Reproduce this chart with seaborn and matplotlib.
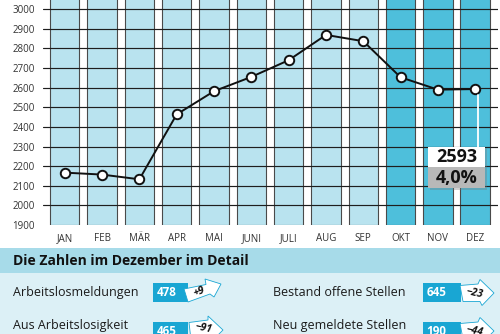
import numpy as np
import pandas as pd
import matplotlib
matplotlib.use("Agg")
import matplotlib.pyplot as plt
import seaborn as sns
from matplotlib.patches import Rectangle, Polygon

# ---------------- data ----------------
months = ["JAN", "FEB", "MÄR", "APR", "MAI", "JUNI", "JULI", "AUG", "SEP", "OKT", "NOV", "DEZ"]
values = [2167, 2157, 2133, 2464, 2582, 2655, 2740, 2869, 2837, 2653, 2590, 2593]
column_top = 3100
y_min = 1900
y_ticks = [1900, 2000, 2100, 2200, 2300, 2400, 2500, 2600, 2700, 2800, 2900, 3000]
highlight_value = "2593"
highlight_rate = "4,0%"
detail_title = "Die Zahlen im Dezember im Detail"
left_labels = ["Aus Arbeitslosigkeit", "abgemeldet"]
row1_left = "Arbeitslosmeldungen"
left_values = ["478", "465"]
left_changes = ["+9", "−91"]
right_labels = ["Bestand offene Stellen", "Neu gemeldete Stellen"]
right_values = ["645", "190"]
right_changes = ["−23", "−44"]

W, H = 500, 334
sns.set_theme(style="white")
plt.rcParams["font.family"] = ["Open Sans", "DejaVu Sans"]

fig = plt.figure(figsize=(W / 100, H / 100), dpi=100)
fig.patch.set_facecolor("white")

def fx(x):
    return x / W

def fy(y):
    return 1 - y / H

# bottom panel backgrounds
fig.patches.append(Rectangle((0, fy(334)), 1, (334 - 273) / H, transform=fig.transFigure,
                             facecolor="#dcf0f6", edgecolor="none", zorder=0))
fig.patches.append(Rectangle((0, fy(273)), 1, (273 - 247.5) / H, transform=fig.transFigure,
                             facecolor="#a7dbe9", edgecolor="none", zorder=0))

ax = fig.add_axes([fx(43), fy(225), (498 - 43) / W, 225 / H])
ax.set_facecolor("none")

df = pd.DataFrame({"month": months, "height": [column_top - y_min] * len(months)})
bar_colors = ["#b9e3ef"] * 9 + ["#4ebfdb"] * 3
sns.barplot(data=df, x="month", y="height", hue="month", palette=bar_colors, legend=False,
            order=months, bottom=y_min, width=0.79, edgecolor="#4a4a4a", linewidth=0.8,
            saturation=1, ax=ax, zorder=1)

for t in y_ticks[1:] + [3100]:
    ax.axhline(t, color="#1e1e1e", lw=0.85, zorder=2)

sns.lineplot(x=np.arange(len(months)), y=values, color="#111111", lw=1.4, marker="o",
             markersize=6.8, markerfacecolor="white", markeredgecolor="#111111",
             markeredgewidth=1.4, ax=ax, zorder=5)

ax.set_xlim(-0.583, 11.61)
ax.set_ylim(y_min, 3047)
ax.set_yticks(y_ticks)
ax.set_yticklabels([str(t) for t in y_ticks])
ax.tick_params(axis="y", length=0, pad=5.8, labelsize=7, labelcolor="#333333")
ax.tick_params(axis="x", length=0, pad=5.5, labelsize=7, labelcolor="#333333")
ax.set_xlabel("")
ax.set_ylabel("")
for s in ax.spines.values():
    s.set_visible(False)

# highlight annotation
ax.plot([11.07, 11.07], [2562, 2296], color="white", lw=1.3, zorder=6)
ax.add_patch(Rectangle((9.78, 2080), 1.527, 214, facecolor="#7a7a7a", alpha=0.35,
                       edgecolor="none", zorder=6))
ax.add_patch(Rectangle((9.733, 2194), 1.527, 102, facecolor="white", edgecolor="none", zorder=7))
ax.add_patch(Rectangle((9.733, 2087), 1.527, 107, facecolor="#b8b8b8", edgecolor="none", zorder=7))
ax.text(10.5, 2245, highlight_value, ha="center", va="center", fontsize=13,
        fontweight="bold", color="#111111", zorder=8)
ax.text(10.5, 2140, highlight_rate, ha="center", va="center", fontsize=13,
        fontweight="bold", color="#111111", zorder=8)

# detail section
fig.text(fx(13), fy(261), detail_title, fontsize=10, fontweight="bold", color="#111111",
         va="center", ha="left")

blue = "#19a6d3"

def arrow(points, label, rot, tx, ty):
    pts = [(fx(x), fy(y)) for x, y in points]
    fig.patches.append(Polygon(pts, closed=True, transform=fig.transFigure,
                               facecolor="white", edgecolor=blue, lw=0.6, zorder=3))
    fig.text(fx(tx), fy(ty), label, fontsize=7.5, fontweight="bold", style="italic",
             color="#111111", rotation=rot, ha="center", va="center", zorder=4)

rows_y = [292.5, 325.5]
box_top = [283, 321.7]
fig.text(fx(13), fy(rows_y[0]), row1_left, fontsize=9, color="#1a1a1a", va="center", ha="left")
fig.text(fx(13), fy(rows_y[1]), left_labels[0], fontsize=9, color="#1a1a1a", va="center", ha="left")
fig.text(fx(13), fy(rows_y[1] + 15), left_labels[1], fontsize=9, color="#1a1a1a", va="center", ha="left")
for i in range(2):
    fig.patches.append(Rectangle((fx(152.7), fy(box_top[i] + 19)), (188 - 152.7) / W, 19 / H,
                                 transform=fig.transFigure, facecolor=blue, edgecolor="none", zorder=2))
    fig.text(fx(156.5), fy(box_top[i] + 9.5), left_values[i], fontsize=8.4, fontweight="bold",
             color="white", va="center", ha="left", zorder=4)
    fig.text(fx(273), fy(rows_y[i]), right_labels[i], fontsize=9, color="#1a1a1a",
             va="center", ha="left")
    fig.patches.append(Rectangle((fx(422.7), fy(box_top[i] + 19)), (461 - 422.7) / W, 19 / H,
                                 transform=fig.transFigure, facecolor=blue, edgecolor="none", zorder=2))
    fig.text(fx(426.5), fy(box_top[i] + 9.5), right_values[i], fontsize=8.4, fontweight="bold",
             color="white", va="center", ha="left", zorder=4)

arrow([(184, 289), (206, 284.5), (205, 279), (221, 284), (214, 297), (210, 294), (188, 302)],
      left_changes[0], 18, 199, 292)
arrow([(189, 322.5), (208, 320), (208, 316), (223, 330), (211, 342), (210, 337), (191, 340)],
      left_changes[1], -12, 203, 328.5)
arrow([(460, 285.5), (478, 284), (480, 279.5), (494, 293), (482, 305.5), (480, 301.5), (463, 301.5)],
      right_changes[0], -12, 474, 293)
arrow([(460, 323.5), (478, 322), (480, 317.5), (494, 331), (482, 343), (480, 339), (463, 339)],
      right_changes[1], -12, 474, 331)

fig.savefig("out.png", dpi=100, facecolor=fig.get_facecolor())
